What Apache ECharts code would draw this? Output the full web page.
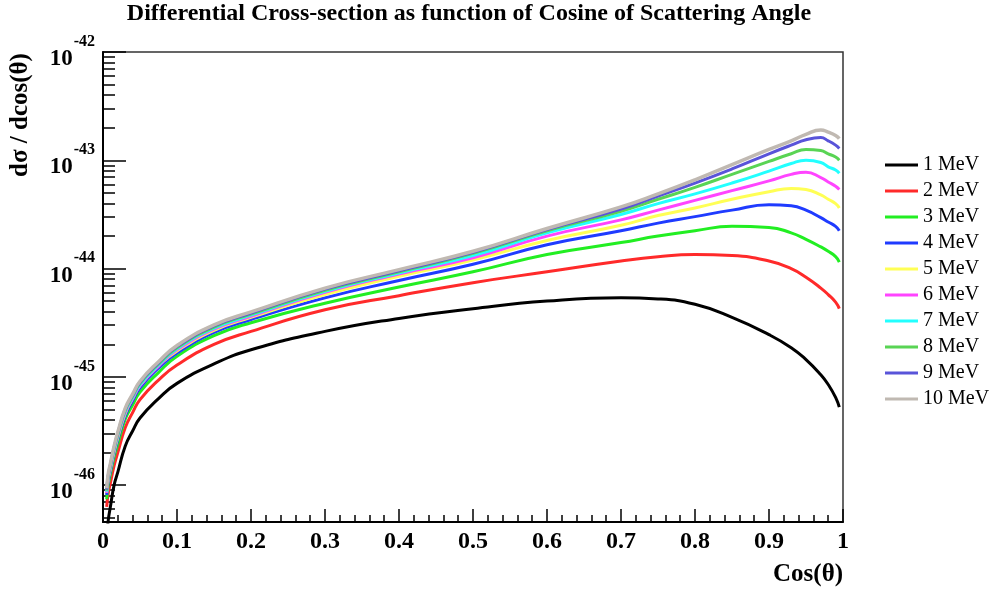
<!DOCTYPE html>
<html>
<head>
<meta charset="utf-8">
<script src="https://cdn.jsdelivr.net/npm/echarts@6/dist/echarts.min.js"></script>
<style>
  html, body { margin: 0; padding: 0; background: #fff; }
  #chart { width: 998px; height: 590px; }
</style>
</head>
<body>
<div id="chart"></div>
<script>
// cos(theta) sample points
const cosTheta = [0.005, 0.007, 0.01, 0.015, 0.02, 0.03, 0.04, 0.05, 0.075, 0.1, 0.15, 0.2, 0.3, 0.4, 0.5, 0.6, 0.7, 0.75, 0.8, 0.85, 0.9, 0.93, 0.95, 0.97, 0.98, 0.99, 0.995];

// log10 of dsigma/dcos(theta)
const xs1MeV = [-46.50, -46.33, -46.20, -46.00, -45.88, -45.64, -45.50, -45.38, -45.20, -45.06, -44.88, -44.75, -44.58, -44.46, -44.37, -44.30, -44.27, -44.28, -44.33, -44.45, -44.61, -44.73, -44.84, -44.98, -45.07, -45.19, -45.28];
const xs2MeV = [-46.20, -46.08, -45.98, -45.82, -45.70, -45.47, -45.33, -45.21, -45.03, -44.89, -44.70, -44.58, -44.38, -44.25, -44.13, -44.03, -43.93, -43.89, -43.87, -43.88, -43.93, -44.00, -44.08, -44.18, -44.24, -44.31, -44.37];
const xs3MeV = [-46.13, -46.00, -45.90, -45.74, -45.62, -45.39, -45.26, -45.14, -44.96, -44.81, -44.62, -44.50, -44.32, -44.17, -44.03, -43.87, -43.76, -43.70, -43.65, -43.61, -43.62, -43.67, -43.73, -43.80, -43.84, -43.89, -43.94];
const xs4MeV = [-46.09, -45.97, -45.87, -45.71, -45.58, -45.36, -45.22, -45.10, -44.92, -44.78, -44.59, -44.47, -44.27, -44.11, -43.96, -43.78, -43.65, -43.58, -43.52, -43.46, -43.41, -43.42, -43.46, -43.53, -43.57, -43.61, -43.65];
const xs5MeV = [-46.07, -45.95, -45.85, -45.69, -45.56, -45.34, -45.20, -45.08, -44.90, -44.76, -44.57, -44.45, -44.24, -44.07, -43.92, -43.74, -43.60, -43.51, -43.44, -43.36, -43.29, -43.26, -43.27, -43.32, -43.36, -43.40, -43.44];
const xs6MeV = [-46.07, -45.94, -45.84, -45.68, -45.55, -45.33, -45.20, -45.08, -44.90, -44.75, -44.56, -44.44, -44.22, -44.05, -43.90, -43.70, -43.55, -43.46, -43.37, -43.28, -43.19, -43.13, -43.11, -43.16, -43.20, -43.24, -43.27];
const xs7MeV = [-46.06, -45.93, -45.83, -45.67, -45.54, -45.32, -45.19, -45.07, -44.89, -44.74, -44.55, -44.43, -44.21, -44.04, -43.88, -43.67, -43.50, -43.40, -43.31, -43.21, -43.10, -43.03, -43.00, -43.02, -43.06, -43.09, -43.12];
const xs8MeV = [-46.05, -45.92, -45.82, -45.66, -45.53, -45.31, -45.18, -45.06, -44.88, -44.73, -44.54, -44.42, -44.20, -44.03, -43.86, -43.65, -43.47, -43.36, -43.25, -43.13, -43.01, -42.94, -42.90, -42.91, -42.94, -42.97, -43.00];
const xs9MeV = [-46.04, -45.91, -45.81, -45.65, -45.52, -45.30, -45.17, -45.05, -44.87, -44.72, -44.53, -44.41, -44.19, -44.02, -43.85, -43.64, -43.45, -43.33, -43.21, -43.08, -42.94, -42.86, -42.81, -42.79, -42.82, -42.86, -42.89];
const xs10MeV = [-46.03, -45.90, -45.80, -45.64, -45.51, -45.29, -45.16, -45.04, -44.86, -44.71, -44.52, -44.40, -44.18, -44.01, -43.84, -43.63, -43.43, -43.31, -43.18, -43.04, -42.90, -42.82, -42.76, -42.72, -42.74, -42.77, -42.80];

const seriesNames = ['1 MeV', '2 MeV', '3 MeV', '4 MeV', '5 MeV', '6 MeV', '7 MeV', '8 MeV', '9 MeV', '10 MeV'];
const seriesValues = [xs1MeV, xs2MeV, xs3MeV, xs4MeV, xs5MeV, xs6MeV, xs7MeV, xs8MeV, xs9MeV, xs10MeV];
const lineColors = ['#000000', '#ff2a2a', '#22ee22', '#1f3bff', '#ffff55', '#ff44ff', '#22ffff', '#59d454', '#5954d9', '#c0b9b2'];

// decades shown on the y axis (log10) and minor tick mantissas
const decadeTicks = [-46, -45, -44, -43, -42];
const minorMantissas = [2, 3, 4, 5, 6, 7, 8, 9];

const yMin = -46.34;
const yMax = -42;

const minorTicks = [];
[-47, -46, -45, -44, -43].forEach(d => {
    minorMantissas.forEach(m => {
        const v = d + Math.log10(m);
        if (v > yMin && v < yMax) minorTicks.push(v);
    });
});

const serif = '"Liberation Serif", "DejaVu Serif", serif';

const chart = echarts.init(document.getElementById('chart'));

const option = {
    backgroundColor: '#ffffff',
    animation: false,
    grid: {
        left: 103, right: 155, top: 52, bottom: 68,
        show: true,
        borderColor: '#333',
        borderWidth: 1.5
    },
    xAxis: {
        type: 'value',
        min: 0, max: 1, interval: 0.1,
        axisLine: { lineStyle: { color: '#000', width: 2 } },
        axisTick: { inside: true, length: 13, lineStyle: { color: '#000', width: 1.5 } },
        minorTick: { show: true, splitNumber: 5, length: 7, lineStyle: { color: '#000', width: 1.5 } },
        splitLine: { show: false },
        axisLabel: {
            margin: 8,
            color: '#000',
            fontFamily: serif,
            fontWeight: 'bold',
            fontSize: 24
        }
    },
    yAxis: [{
        type: 'value',
        min: yMin, max: yMax,
        axisLine: { lineStyle: { color: '#000', width: 2 } },
        axisTick: {
            inside: true, length: 23,
            customValues: decadeTicks,
            lineStyle: { color: '#000', width: 1.5 }
        },
        splitLine: { show: false },
        axisLabel: {
            customValues: decadeTicks,
            margin: 8,
            formatter: v => '{b|10}{s|' + v + '}',
            rich: {
                b: { fontFamily: serif, fontWeight: 'bold', fontSize: 23, color: '#000', padding: [14, 0, 0, 0] },
                s: { fontFamily: serif, fontWeight: 'bold', fontSize: 16, color: '#000', verticalAlign: 'top', padding: [0, 0, 0, 1] }
            }
        }
    }, {
        type: 'value',
        min: yMin, max: yMax,
        position: 'left',
        axisLine: { show: false },
        axisTick: {
            inside: true, length: 12,
            customValues: minorTicks,
            lineStyle: { color: '#000', width: 1.5 }
        },
        axisLabel: { show: false },
        splitLine: { show: false }
    }],
    legend: {
        orient: 'vertical',
        left: 880,
        top: 150,
        icon: 'rect',
        itemWidth: 33,
        itemHeight: 3,
        itemGap: 6,
        data: seriesNames,
        textStyle: { fontFamily: serif, fontSize: 20, color: '#000', lineHeight: 20 }
    },
    graphic: [{
        type: 'text',
        x: 469, y: 14,
        style: {
            text: 'Differential Cross-section as function of Cosine of Scattering Angle',
            font: 'bold 24px ' + serif,
            fill: '#000',
            align: 'center',
            verticalAlign: 'middle'
        }
    }, {
        type: 'text',
        x: 21, y: 115,
        rotation: Math.PI / 2,
        style: {
            text: 'dσ / dcos(θ)',
            font: 'bold 25px ' + serif,
            fill: '#000',
            align: 'center',
            verticalAlign: 'middle'
        }
    }, {
        type: 'text',
        x: 843, y: 575,
        style: {
            text: 'Cos(θ)',
            font: 'bold 25px ' + serif,
            fill: '#000',
            align: 'right',
            verticalAlign: 'middle'
        }
    }],
    series: seriesValues.map((vals, i) => ({
        name: seriesNames[i],
        type: 'line',
        data: cosTheta.map((c, j) => [c, vals[j]]),
        showSymbol: false,
        smooth: 0.5,
        clip: true,
        lineStyle: { color: lineColors[i], width: i === 9 ? 3.5 : 3 },
        itemStyle: { color: lineColors[i] }
    }))
};

chart.setOption(option);
</script>
</body>
</html>
